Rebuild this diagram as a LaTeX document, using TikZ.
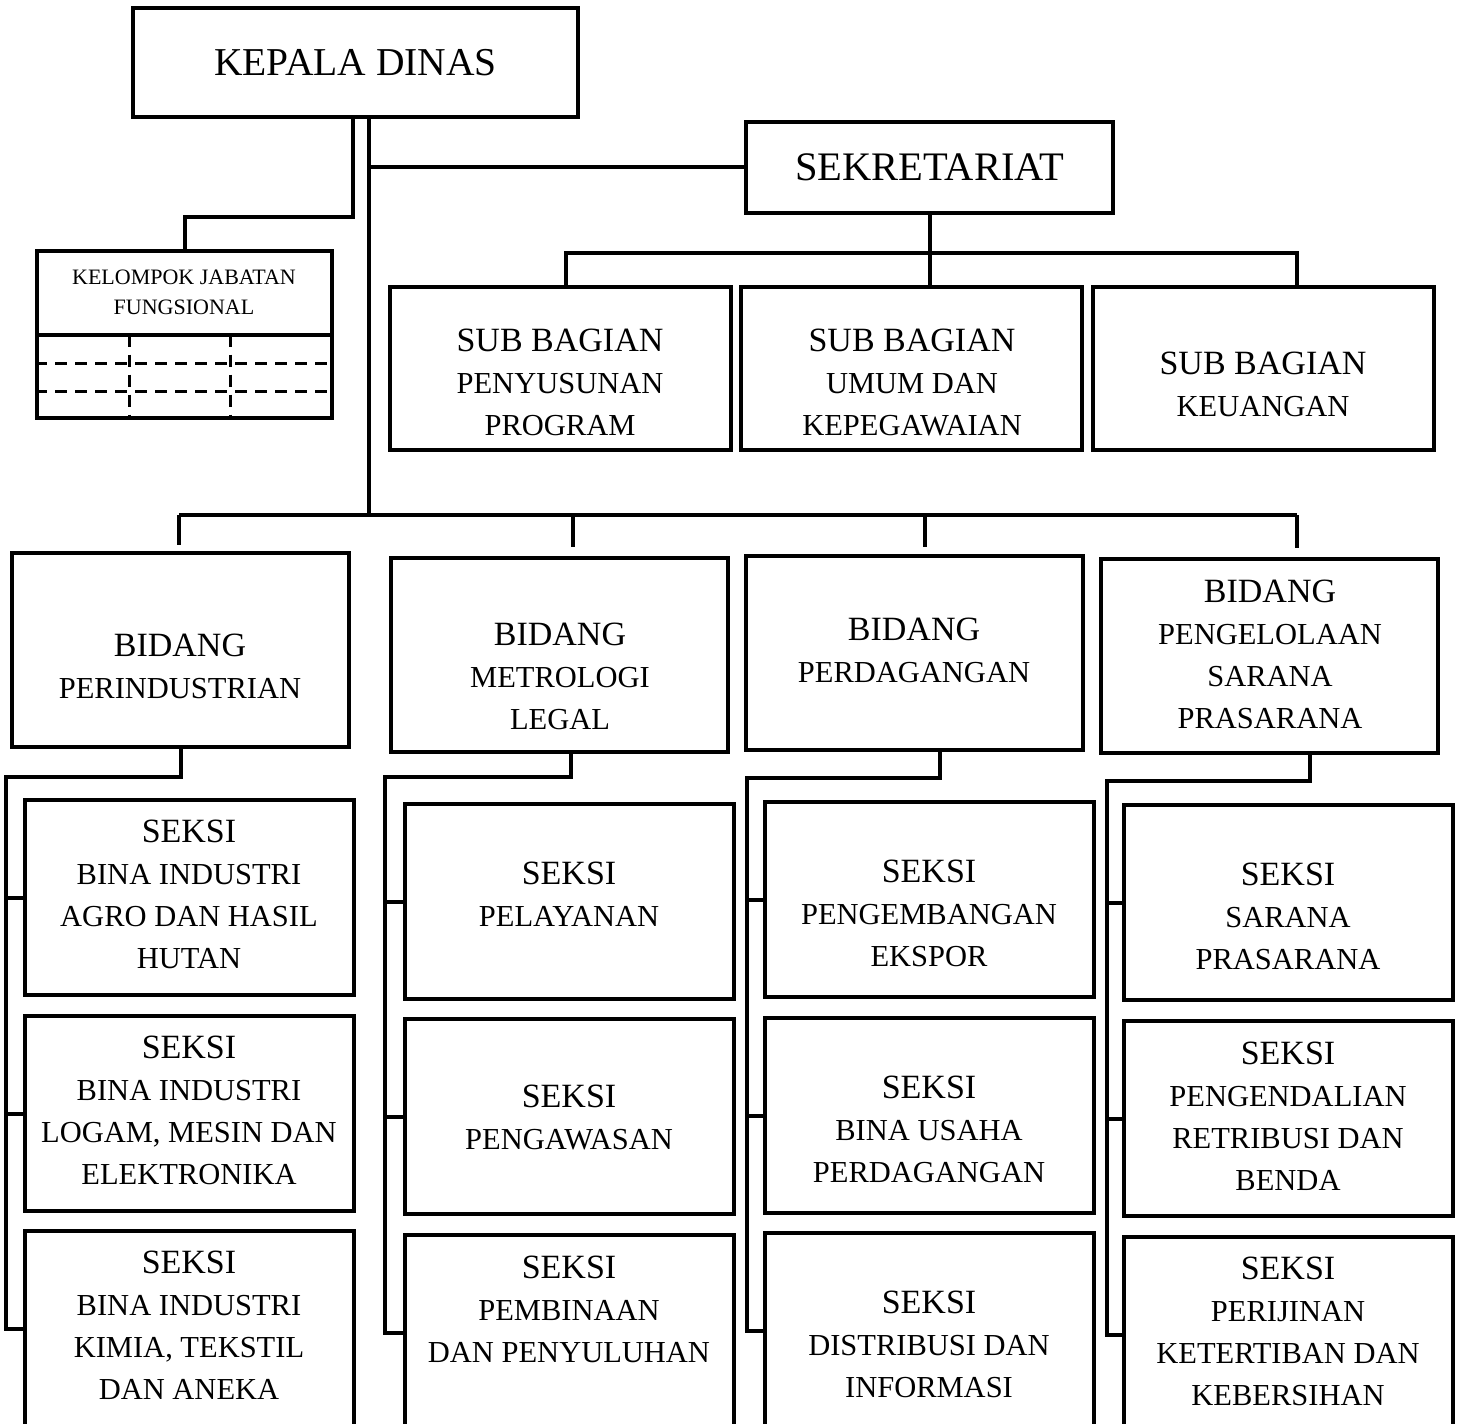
\documentclass[tikz,border=0pt]{standalone}
\usepackage{fontspec}
\setmainfont{Liberation Serif}
\usetikzlibrary{calc}
\newcommand{\hd}[1]{{\fontsize{17}{21}\selectfont #1}}

\begin{document}
\begin{tikzpicture}[x=0.5pt,y=-0.5pt,
  unit/.style={draw,line width=2pt,inner sep=0pt},
  subbox/.style={unit,minimum width=170.5pt,minimum height=81.5pt},
  bidbox/.style={unit,minimum width=168.5pt,minimum height=97pt},
  seksibox/.style={unit,minimum width=164.5pt,minimum height=97.5pt},
  lbl/.style={align=center,font=\fontsize{15.25}{21}\selectfont},
  link/.style={line width=2pt},
  dashln/.style={line width=1.5pt,dash pattern=on 6pt off 4pt}]
  \path[use as bounding box,fill=white] (0,0) rectangle (1459,1423);
  \clip (0,0) rectangle (1459,1423);

  \node[unit,minimum width=222.5pt,minimum height=54.5pt,font=\fontsize{19.75}{21}\selectfont] (kepala) at (355.5,62.5) {KEPALA DINAS};
  \node[unit,minimum width=183.5pt,minimum height=45.5pt,font=\fontsize{20.25}{21}\selectfont] (sekr) at (929.5,167.5) {SEKRETARIAT};
  \node[unit,minimum width=147.5pt,minimum height=83.5pt] (kjf) at (184.5,334.5) {};
  \node[align=center,font=\fontsize{11}{15}\selectfont] (t-kjf) at (184,292) {KELOMPOK JABATAN\\FUNGSIONAL};
  \draw[link] (kjf.west) -- (kjf.east);
  \foreach \dy in {28.5,56.5}
    \draw[dashln] ([shift={(0,\dy)}]kjf.west) -- ([shift={(0,\dy)}]kjf.east);
  \foreach \dx in {-55.5,45.5}
    \draw[dashln] ([shift={(\dx,0)}]kjf.center) -- ([shift={(\dx,0)}]kjf.south);

  \node[subbox] (sb1) at (560.5,368.5) {};
  \node[subbox] (sb2) at (911.5,368.5) {};
  \node[subbox] (sb3) at (1263.5,368.5) {};
  \node[lbl] (t-sb1) at (560,382) {\hd{SUB BAGIAN}\\PENYUSUNAN\\PROGRAM};
  \node[lbl] (t-sb2) at (912,382) {\hd{SUB BAGIAN}\\UMUM DAN\\KEPEGAWAIAN};
  \node[lbl] (t-sb3) at (1263,384) {\hd{SUB BAGIAN}\\KEUANGAN};

  \node[bidbox] (bid1) at (180.5,650) {};
  \node[bidbox] (bid2) at (559,655) {};
  \node[bidbox] (bid3) at (914.5,653) {};
  \node[bidbox] (bid4) at (1269.5,656) {};
  \node[lbl] (t-bid1) at (180,666) {\hd{BIDANG}\\PERINDUSTRIAN};
  \node[lbl] (t-bid2) at (560,676) {\hd{BIDANG}\\METROLOGI\\LEGAL};
  \node[lbl] (t-bid3) at (914,650) {\hd{BIDANG}\\PERDAGANGAN};
  \node[lbl] (t-bid4) at (1270,654) {\hd{BIDANG}\\PENGELOLAAN\\SARANA\\PRASARANA};

  \node[seksibox] (s11) at (189,897.5) {};
  \node[seksibox] (s12) at (189,1113.5) {};
  \node[seksibox] (s13) at (189,1328.5) {};
  \node[seksibox] (s21) at (569.5,901.5) {};
  \node[seksibox] (s22) at (569.5,1116.5) {};
  \node[seksibox] (s23) at (569.5,1332.5) {};
  \node[seksibox] (s31) at (929.5,899.5) {};
  \node[seksibox] (s32) at (929.5,1115.5) {};
  \node[seksibox] (s33) at (929.5,1330.5) {};
  \node[seksibox] (s41) at (1288,902.5) {};
  \node[seksibox] (s42) at (1288,1118.5) {};
  \node[seksibox] (s43) at (1288,1334.5) {};
  \node[lbl] (t-s11) at (189,894) {\hd{SEKSI}\\BINA INDUSTRI\\AGRO DAN HASIL\\HUTAN};
  \node[lbl] (t-s12) at (189,1110) {\hd{SEKSI}\\BINA INDUSTRI\\LOGAM, MESIN DAN\\ELEKTRONIKA};
  \node[lbl] (t-s13) at (189,1325) {\hd{SEKSI}\\BINA INDUSTRI\\KIMIA, TEKSTIL\\DAN ANEKA};
  \node[lbl] (t-s21) at (569,894) {\hd{SEKSI}\\PELAYANAN};
  \node[lbl] (t-s22) at (569,1117) {\hd{SEKSI}\\PENGAWASAN};
  \node[lbl] (t-s23) at (569,1309) {\hd{SEKSI}\\PEMBINAAN\\DAN PENYULUHAN};
  \node[lbl] (t-s31) at (929,913) {\hd{SEKSI}\\PENGEMBANGAN\\EKSPOR};
  \node[lbl] (t-s32) at (929,1129) {\hd{SEKSI}\\BINA USAHA\\PERDAGANGAN};
  \node[lbl] (t-s33) at (929,1344) {\hd{SEKSI}\\DISTRIBUSI DAN\\INFORMASI};
  \node[lbl] (t-s41) at (1288,916) {\hd{SEKSI}\\SARANA\\PRASARANA};
  \node[lbl] (t-s42) at (1288,1116) {\hd{SEKSI}\\PENGENDALIAN\\RETRIBUSI DAN\\BENDA};
  \node[lbl] (t-s43) at (1288,1331) {\hd{SEKSI}\\PERIJINAN\\KETERTIBAN DAN\\KEBERSIHAN};

  \coordinate (trunk) at ([xshift=6.75pt]kepala.south);
  \coordinate (b1) at (179,515);
  \coordinate (b2) at (573,515);
  \coordinate (b3) at (925,515);
  \coordinate (b4) at (1297,515);

  \draw[link] ([xshift=-1.25pt]kepala.south) -- ++(0,98) -| (kjf.north);
  \draw[link] (trunk) -- (trunk |- b1);
  \draw[link] (sekr.west) -- (sekr.west -| trunk);
  \draw[link] (sekr.south) -- (sekr.south |- sb2.north);
  \draw[link] ([xshift=2.75pt]sb1.north) -- ++(0,-32) -| ([xshift=16.75pt]sb3.north);
  \draw[link] (b1) -- (b4);
  \foreach \b/\l in {b1/30,b2/32,b3/32,b4/33}
    \draw[link] (\b) -- ++(0,\l);

  \draw[link] (bid1.south) -- ++(0,28) -| ([xshift=-8.5pt]s13.west) -- (s13.west);
  \draw[link] ([xshift=6pt]bid2.south) -- ++(0,23) -| ([xshift=-9pt]s23.west) -- (s23.west);
  \draw[link] ([xshift=12.75pt]bid3.south) -- ++(0,26) -| ([xshift=-8pt]s33.west) -- (s33.west);
  \draw[link] ([xshift=20.25pt]bid4.south) -- ++(0,26) -| ([xshift=-7.5pt]s43.west) -- (s43.west);
  \foreach \s/\d in {s11/17,s12/17,s21/18,s22/18,s31/16,s32/16,s41/15,s42/15}
    \draw[link] (\s.west) -- ++(-\d,0);
\end{tikzpicture}
\end{document}
